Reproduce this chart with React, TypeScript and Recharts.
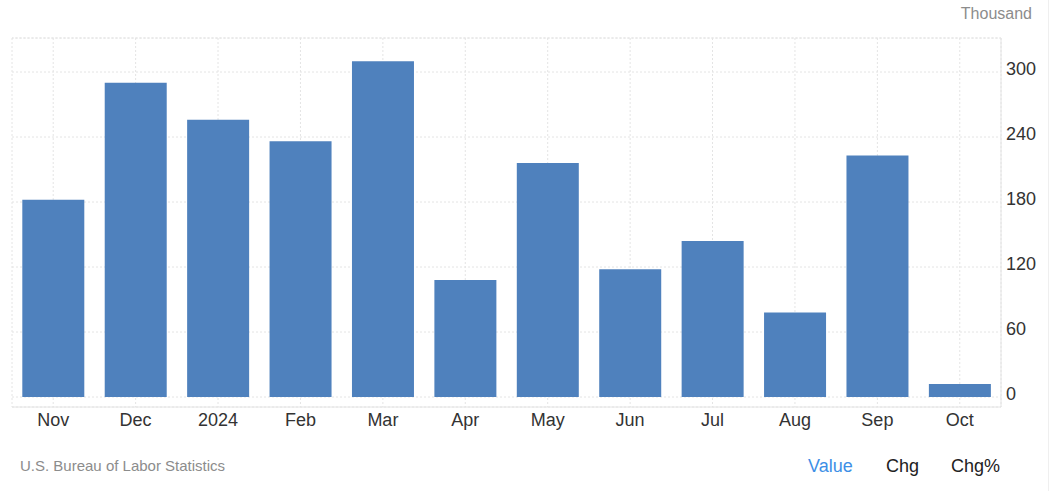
import {
  BarChart,
  Bar,
  XAxis,
  YAxis,
  CartesianGrid,
  ReferenceLine,
} from "recharts";

const months = ["Nov", "Dec", "2024", "Feb", "Mar", "Apr", "May", "Jun", "Jul", "Aug", "Sep", "Oct"];
const payrolls = [182, 290, 256, 236, 310, 108, 216, 118, 144, 78, 223, 12];
const yTicks = [0, 60, 120, 180, 240, 300];
const yDomain = [-9.2, 331.4];

const data = months.map((name, i) => ({ name, value: payrolls[i] }));

const FONT = "'Liberation Sans', Arial, sans-serif";
const GRID = "#e4e4e4";

const XTick = (props: any) => {
  const { x, y, payload } = props;
  return (
    <text x={x} y={y + 19} textAnchor="middle" fontSize={18} fontFamily={FONT} fill="#333">
      {payload.value}
    </text>
  );
};

const YTick = (props: any) => {
  const { x, y, payload } = props;
  return (
    <text x={x} y={y + 3} textAnchor="start" fontSize={18} fontFamily={FONT} fill="#333">
      {payload.value}
    </text>
  );
};

export default function App() {
  return (
    <div style={{ position: "absolute", left: 0, top: 0, width: 1053, height: 491, background: "#fff" }}>
      <BarChart
        width={1053}
        height={491}
        data={data}
        margin={{ top: 38, right: 12, left: 12, bottom: 54 }}
        barCategoryGap="12.5%"
      >
        <CartesianGrid stroke={GRID} strokeDasharray="2 2" />
        <ReferenceLine y={yDomain[1]} stroke={GRID} strokeDasharray="2 2" />
        <XAxis
          dataKey="name"
          height={30}
          tickSize={0}
          tickMargin={0}
          tick={<XTick />}
          axisLine={{ stroke: GRID }}
          tickLine={false}
          interval={0}
        />
        <YAxis
          orientation="right"
          width={40}
          domain={yDomain}
          ticks={yTicks}
          allowDataOverflow
          tickSize={0}
          tickMargin={5}
          tick={<YTick />}
          axisLine={{ stroke: GRID }}
          tickLine={false}
        />
        <YAxis
          yAxisId="border"
          orientation="left"
          width={0}
          tick={false}
          tickLine={false}
          axisLine={{ stroke: GRID }}
        />
        <Bar dataKey="value" fill="#4f81bd" isAnimationActive={false} />
      </BarChart>
      <svg
        width={1053}
        height={491}
        style={{ position: "absolute", left: 0, top: 0, pointerEvents: "none" }}
      >
        <line x1={1048.5} y1={0} x2={1048.5} y2={491} stroke="#efefef" />
        <text x={1032} y={19} textAnchor="end" fontSize={16} fontFamily={FONT} fill="#8c8c8c">
          Thousand
        </text>
        <text x={20} y={471} fontSize={15} fontFamily={FONT} fill="#8c8c8c">
          U.S. Bureau of Labor Statistics
        </text>
        <text x={808} y={472} fontSize={18} fontFamily={FONT} fill="#3d8fe6">
          Value
        </text>
        <text x={886} y={472} fontSize={18} fontFamily={FONT} fill="#222">
          Chg
        </text>
        <text x={951} y={472} fontSize={18} fontFamily={FONT} fill="#222">
          Chg%
        </text>
      </svg>
    </div>
  );
}
